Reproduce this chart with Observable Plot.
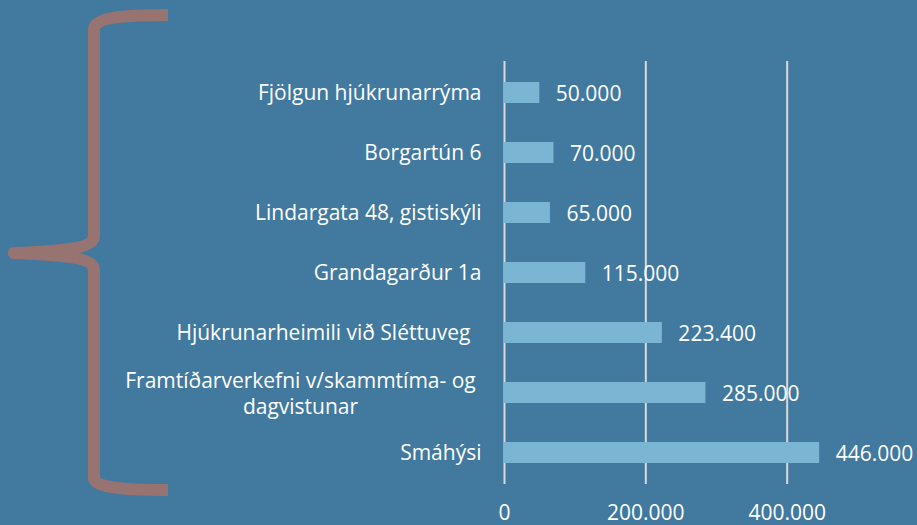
<!DOCTYPE html>
<html>
<head>
<meta charset="utf-8">
<script src="https://cdn.jsdelivr.net/npm/d3@7"></script>
<script src="https://cdn.jsdelivr.net/npm/@observablehq/plot@0.6"></script>
<style>
  html, body { margin: 0; padding: 0; background: #41799f; }
  #wrap { position: relative; width: 917px; height: 525px; overflow: hidden; }
  #brace { position: absolute; left: 0; top: 0; }
  #chart { position: absolute; left: 0; top: 0; }
</style>
</head>
<body>
<div id="wrap">
  <div id="chart"></div>
  <svg id="brace" width="200" height="525">
    <path d="M168,15 C120,15 94,18 94,30 L94,236 C94,247 70,251 14,253 C70,255 94,259 94,270 L94,478 C94,487 120,490 168,490"
      fill="none" stroke="#977372" stroke-width="12" stroke-linejoin="round" stroke-linecap="butt"/>
    <circle cx="14" cy="253" r="6" fill="#977372"/>
  </svg>
</div>
<script>
const categories = [
  "Fjölgun hjúkrunarrýma",
  "Borgartún 6",
  "Lindargata 48, gistiskýli",
  "Grandagarður 1a",
  "Hjúkrunarheimili við Sléttuveg",
  "Framtíðarverkefni v/skammtíma- og\ndagvistunar",
  "Smáhýsi"
];
const values = [50000, 70000, 65000, 115000, 223400, 285000, 446000];
const xTicks = [0, 200000, 400000];

const data = categories.map((c, i) => ({category: c, value: values[i]}));
const fmt = d3.formatLocale({decimal: ",", thousands: ".", grouping: [3], currency: ["", ""]}).format(",d");

const font = "'Open Sans', sans-serif";
const fs = 21;

const single = data.filter(d => !d.category.includes("\n") && !d.category.startsWith("Hjúkrunarheimili"));
const hjuk = data.filter(d => d.category.startsWith("Hjúkrunarheimili"));
const multi = data.filter(d => d.category.includes("\n"));

const chart = Plot.plot({
  width: 917,
  height: 525,
  marginLeft: 504,
  marginRight: 95,
  marginTop: 61,
  marginBottom: 41,
  style: {background: "transparent", color: "white", fontFamily: font, fontSize: fs + "px"},
  x: {domain: [0, 450000], axis: null, label: null},
  y: {domain: categories, paddingInner: 0.65, paddingOuter: 0.325, axis: null},
  marks: [
    Plot.ruleX(xTicks, {stroke: "#d9d9d9", strokeWidth: 2}),
    Plot.barX(data, {y: "category", x: "value", fill: "#7ab6d4"}),
    Plot.text(data, {y: "category", x: "value", text: d => fmt(d.value), textAnchor: "start", dx: 16, dy: 1, fill: "white", fontSize: fs}),
    Plot.text(single, {y: "category", x: 0, text: "category", textAnchor: "end", dx: -23, fill: "white", fontSize: fs}),
    Plot.text(hjuk, {y: "category", x: 0, text: "category", textAnchor: "end", dx: -34, fill: "white", fontSize: fs}),
    Plot.text(multi, {y: "category", x: 0, text: "category", textAnchor: "middle", dx: -204, lineHeight: 1.24, fill: "white", fontSize: fs}),
    Plot.axisX(xTicks, {tickSize: 0, tickPadding: 21, tickFormat: fmt, fill: "white", fontSize: fs, ticks: xTicks, label: null})
  ]
});
document.getElementById("chart").appendChild(chart);
</script>
</body>
</html>
